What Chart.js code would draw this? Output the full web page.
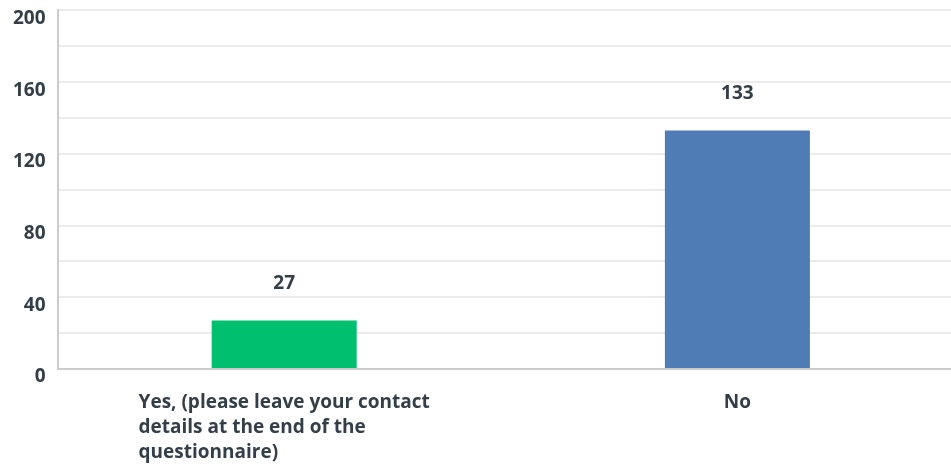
<!DOCTYPE html>
<html>
<head>
<meta charset="utf-8">
<script src="https://cdn.jsdelivr.net/npm/chart.js@4"></script>
<style>
  html, body { margin: 0; padding: 0; background: #fff; overflow: hidden; }
  #wrap { width: 964px; height: 479px; margin-top: -13px; }
</style>
</head>
<body>
<div id="wrap"><canvas id="chart"></canvas></div>
<script>
// answer options and counts
const categories = [
  ['Yes, (please leave your contact', 'details at the end of the', 'questionnaire)'],
  ['No']
];
const counts = [27, 133];
const barColors = ['#00bf6f', '#507cb6'];
const yTicksShown = [0, 40, 80, 120, 160, 200];

const textColor = '#333e48';
const fontFamily = '"Open Sans", sans-serif';

// value labels above each bar
const valueLabels = {
  id: 'valueLabels',
  afterDatasetsDraw(chart) {
    const ctx = chart.ctx;
    const meta = chart.getDatasetMeta(0);
    ctx.save();
    ctx.font = '700 19px ' + fontFamily;
    ctx.fillStyle = textColor;
    ctx.textAlign = 'center';
    ctx.textBaseline = 'middle';
    meta.data.forEach((bar, i) => {
      ctx.fillText(String(counts[i]), bar.x, bar.y - 37);
    });
    ctx.restore();
  }
};

// category labels: lines left aligned inside a block centred on the tick
const categoryLabels = {
  id: 'categoryLabels',
  afterDraw(chart) {
    const ctx = chart.ctx;
    const xScale = chart.scales.x;
    ctx.save();
    ctx.font = '700 19px ' + fontFamily;
    ctx.fillStyle = textColor;
    ctx.textAlign = 'left';
    ctx.textBaseline = 'middle';
    categories.forEach((lines, i) => {
      const cx = xScale.getPixelForValue(i);
      const w = Math.max(...lines.map(l => ctx.measureText(l).width));
      lines.forEach((line, j) => {
        ctx.fillText(line, cx - w / 2, xScale.bottom + 34 + j * 25);
      });
    });
    ctx.restore();
  }
};

new Chart(document.getElementById('chart'), {
  type: 'bar',
  data: {
    labels: categories.map(c => c.join(' ')),
    datasets: [{
      data: counts,
      backgroundColor: barColors,
      barPercentage: 0.32,
      categoryPercentage: 1
    }]
  },
  options: {
    responsive: true,
    maintainAspectRatio: false,
    animation: false,
    layout: { padding: { top: 0, left: 1, right: 0, bottom: 97 } },
    plugins: {
      legend: { display: false },
      tooltip: { enabled: false }
    },
    scales: {
      x: {
        ticks: { display: false },
        grid: { display: false, drawTicks: false },
        border: { color: '#cccccc', width: 2 }
      },
      y: {
        min: 0,
        max: 200,
        ticks: {
          stepSize: 20,
          padding: 12,
          labelOffset: 8,
          color: textColor,
          font: { family: fontFamily, size: 19, weight: '700' },
          callback: v => yTicksShown.includes(v) ? v : ''
        },
        grid: { color: '#ebebeb', lineWidth: 2, drawTicks: false },
        border: { color: '#cccccc', width: 2 }
      }
    }
  },
  plugins: [valueLabels, categoryLabels]
});
</script>
</body>
</html>
